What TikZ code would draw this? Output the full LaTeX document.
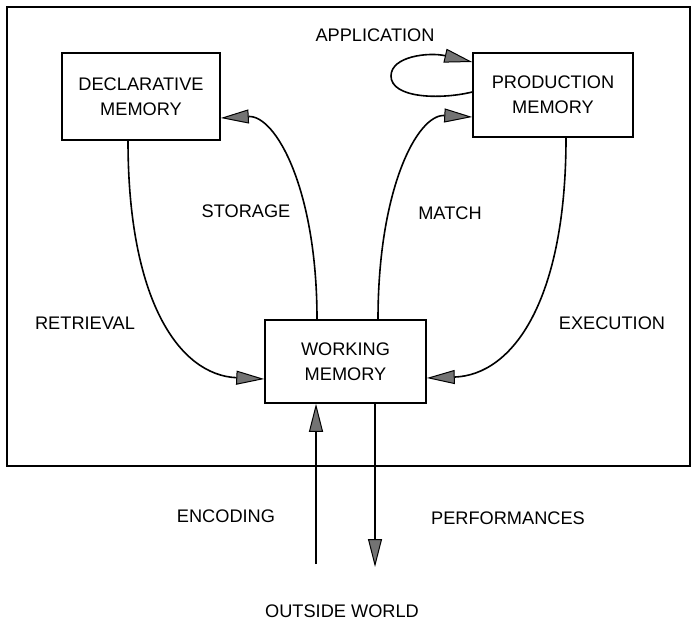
\documentclass[tikz,border=0pt]{standalone}
\usepackage{fontspec}
\setmainfont{Liberation Sans}
\usetikzlibrary{arrows.meta}

\tikzset{
  memory/.style={draw, line width=1.5pt, align=center, inner sep=0pt},
  lbl/.style={inner sep=0pt, anchor=center},
  flow/.style={line width=1.6pt, -{Triangle[length=28pt,width=14pt,fill=black!55,line width=1pt]}},
}

\begin{document}
\begin{tikzpicture}[x=1pt,y=-1pt,font=\fontsize{18.2pt}{25pt}\selectfont]
\useasboundingbox (0,0) rectangle (692,622);

% system boundary
\draw[line width=1.5pt] (7,7) rectangle (690,466);

% memories
\node[memory, minimum width=158pt, minimum height=87pt] (decl) at (141,96.5) {DECLARATIVE\\MEMORY};
\node[memory, minimum width=160pt, minimum height=84pt] (prod) at (553,95) {PRODUCTION\\MEMORY};
\node[memory, minimum width=161pt, minimum height=83pt] (wm) at (345.5,361.5) {WORKING\\MEMORY};

% labels
\node[lbl] (lapp) at (375,35) {APPLICATION};
\node[lbl] (lsto) at (246,211) {STORAGE};
\node[lbl] (lmat) at (450,213) {MATCH};
\node[lbl] (lret) at (85,323) {RETRIEVAL};
\node[lbl] (lexe) at (612,323) {EXECUTION};
\node[lbl] (lenc) at (226,516) {ENCODING};
\node[lbl] (lper) at (508,518) {PERFORMANCES};
\node[lbl] (lout) at (342,611) {OUTSIDE WORLD};

% free ends and loop turning point
\coordinate (encstart) at (316,564);
\coordinate (perfend) at (375,567);
\coordinate (apploop) at (391,76);

% connectors
\draw[flow] ([xshift=-13pt]decl.south) .. controls +(0,160) and +(-85,-4) .. ([yshift=-17.5pt]wm.west);
\draw[flow] ([xshift=-28.5pt]wm.north) .. controls +(0,-130) and +(55,-3) .. ([yshift=-21.5pt]decl.east);
\draw[flow] ([xshift=32.5pt]wm.north) .. controls +(0,-130) and +(-55,-3) .. ([yshift=-22pt]prod.west);
\draw[flow] ([xshift=13pt]prod.south) .. controls +(0,163) and +(86,-3) .. ([yshift=-16.5pt]wm.east);
\draw[flow] ([yshift=3pt]prod.west) .. controls +(-33,8) and +(0,22) .. (apploop)
            .. controls +(0,-20) and +(-43,-10) .. ([yshift=33pt]prod.west);
\draw[flow] (encstart) -- ([xshift=-29.5pt]wm.south);
\draw[flow] ([xshift=29.5pt]wm.south) -- (perfend);
\end{tikzpicture}
\end{document}
